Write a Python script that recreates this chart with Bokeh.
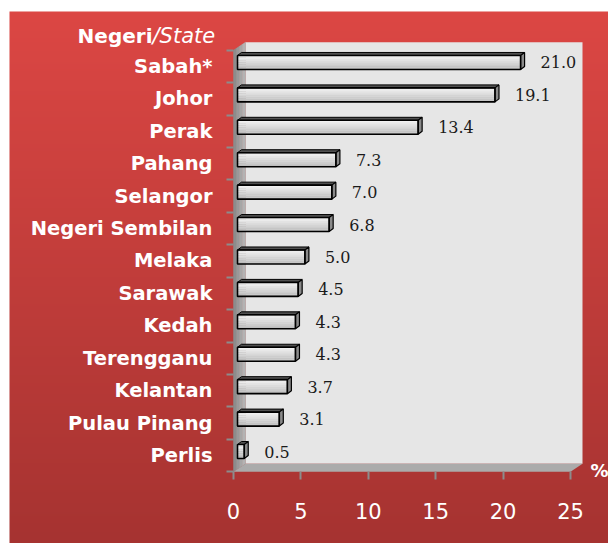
import numpy as np
from bokeh.plotting import figure
from bokeh.models import Range1d, LinearAxis, FixedTicker, ColumnDataSource
from bokeh.core.properties import value
from bokeh.embed import file_html
from bokeh.resources import INLINE

# ---------------- data ----------------
states = ["Sabah*", "Johor", "Perak", "Pahang", "Selangor", "Negeri Sembilan",
          "Melaka", "Sarawak", "Kedah", "Terengganu", "Kelantan",
          "Pulau Pinang", "Perlis"]
percent = [21.0, 19.1, 13.4, 7.3, 7.0, 6.8, 5.0, 4.5, 4.3, 4.3, 3.7, 3.1, 0.5]
x_ticks = [0, 5, 10, 15, 20, 25]
header_bold = "Negeri"
header_italic = "/State"
unit_label = "%"

# ---------------- layout constants (page pixels) ----------------
W, H = 608, 543
PAGE_LEFT, PAGE_TOP = 0, 0
X0_PX, X_SCALE = 233.0, 13.48   # page x of value 0 and px per unit
Y0_PX, Y_SCALE = 455.0, 32.42   # page y of last category centre and px per category


def px2x(px):
    return (px - X0_PX) / X_SCALE


def py2y(py):
    return (Y0_PX - py) / Y_SCALE


def dxp(px):
    return px / X_SCALE


def dyp(px):
    return px / Y_SCALE


n = len(states)
ypos = [n - 1 - k for k in range(n)]
xmax = x_ticks[-1]

p = figure(width=W, height=H, title=None,
           x_range=Range1d(px2x(PAGE_LEFT), px2x(PAGE_LEFT + W)),
           y_range=Range1d(py2y(PAGE_TOP + H), py2y(PAGE_TOP)),
           x_axis_location=None, y_axis_location=None,
           toolbar_location=None, tools="", output_backend="svg",
           min_border=0, outline_line_color=None,
           background_fill_color="white", border_fill_color="white")
p.xgrid.visible = False
p.ygrid.visible = False

# ---------------- red gradient panel ----------------
rows = 240
top_rgb = np.array([220, 71, 68], dtype=float)
bot_rgb = np.array([166, 51, 49], dtype=float)
t = np.linspace(0, 1, rows)[:, None]
cols = bot_rgb * (1 - t) + top_rgb * t
img = np.zeros((rows, 1), dtype=np.uint32)
view = img.view(dtype=np.uint8).reshape((rows, 1, 4))
view[:, 0, 0] = cols[:, 0]
view[:, 0, 1] = cols[:, 1]
view[:, 0, 2] = cols[:, 2]
view[:, 0, 3] = 255
p.image_rgba(image=[img], x=px2x(9), y=py2y(PAGE_TOP + H),
             dw=px2x(PAGE_LEFT + W) - px2x(9), dh=py2y(11) - py2y(PAGE_TOP + H))

# ---------------- 3D walls ----------------
bottom, top = -0.5, n - 0.5
DX, DY = dxp(12), dyp(8)
# back wall
p.patch([DX, xmax + DX, xmax + DX, DX], [bottom + DY, bottom + DY, top + DY, top + DY],
        fill_color="#E6E6E6", line_color=None)
# left wall (horizontal gradient strips)
wall_cols = ["#8C8C8C", "#999999", "#A6A6A6", "#B3B3B3"]
ns = len(wall_cols)
for k, c in enumerate(wall_cols):
    a, b = k / ns, (k + 1) / ns
    p.patch([DX * a, DX * b, DX * b, DX * a],
            [bottom + DY * a, bottom + DY * b, top + DY * b, top + DY * a],
            fill_color=c, line_color=c, line_width=0.5)
# floor
p.patch([0, xmax, xmax + DX, DX], [bottom, bottom, bottom + DY, bottom + DY],
        fill_color="#ABABAB", line_color=None)

# ---------------- 3D bars ----------------
BX, BY = dxp(4), dyp(4)       # bar front-face offset from front plane
HH = dyp(7)                   # half height of bar face
CX, CY = dxp(4), dyp(3)       # bar depth
S = 8
c_top = np.array([242, 242, 242], dtype=float)
c_bot = np.array([190, 190, 190], dtype=float)
sl, sr, sb, st, sc = [], [], [], [], []
top_xs, top_ys, cap_xs, cap_ys = [], [], [], []
for v, y in zip(percent, ypos):
    yc = y + BY
    left, right = BX, v + BX
    for s in range(S):
        f = s / (S - 1)
        cc = c_top * (1 - f) + c_bot * f
        sl.append(left)
        sr.append(right)
        st.append(yc + HH - s * 2 * HH / S)
        sb.append(yc + HH - (s + 1) * 2 * HH / S)
        sc.append("#%02x%02x%02x" % tuple(int(round(q)) for q in cc))
    top_xs.append([left, right, right + CX, left + CX])
    top_ys.append([yc + HH, yc + HH, yc + HH + CY, yc + HH + CY])
    cap_xs.append([right, right, right + CX, right + CX])
    cap_ys.append([yc - HH, yc + HH, yc + HH + CY, yc - HH + CY])

p.quad(left=sl, right=sr, bottom=sb, top=st, fill_color=sc, line_color=None)
p.patches(top_xs, top_ys, fill_color="#505050", line_color="black", line_width=1)
p.patches(cap_xs, cap_ys, fill_color="#8A8A8A", line_color="black", line_width=1.2)
p.quad(left=[BX] * n, right=[v + BX for v in percent],
       bottom=[y + BY - HH for y in ypos], top=[y + BY + HH for y in ypos],
       fill_color=None, line_color="black", line_width=1.6)

# value labels
src = ColumnDataSource(dict(x=percent, y=ypos, txt=["%.1f" % v for v in percent]))
p.text(x="x", y="y", text="txt", source=src, x_offset=24, y_offset=-4,
       text_align="left", text_baseline="middle",
       text_font=value("DejaVu Serif"), text_font_size="16px", text_color="#1a1a1a")

# ---------------- axes ----------------
yaxis = LinearAxis(fixed_location=0,
                   ticker=FixedTicker(ticks=ypos, minor_ticks=[k - 0.5 for k in range(n + 1)]),
                   major_label_overrides={y: s for y, s in zip(ypos, states)},
                   bounds=(bottom, top))
yaxis.major_tick_out = 0
yaxis.major_tick_in = 0
yaxis.minor_tick_out = 7
yaxis.minor_tick_in = 0
yaxis.minor_tick_line_color = "#8C8C8C"
yaxis.minor_tick_line_width = 2
yaxis.axis_line_color = None
yaxis.major_label_text_color = "white"
yaxis.major_label_text_font = "DejaVu Sans"
yaxis.major_label_text_font_style = "bold"
yaxis.major_label_text_font_size = "19.5px"
yaxis.major_label_standoff = 14
p.add_layout(yaxis, "left")

xaxis = LinearAxis(fixed_location=bottom, ticker=FixedTicker(ticks=x_ticks),
                   bounds=(x_ticks[0], x_ticks[-1]))
xaxis.major_tick_out = 8
xaxis.major_tick_in = 0
xaxis.minor_tick_out = 0
xaxis.minor_tick_in = 0
xaxis.major_tick_line_color = "#8C8C8C"
xaxis.major_tick_line_width = 2
xaxis.axis_line_color = None
xaxis.major_label_text_color = "white"
xaxis.major_label_text_font = "DejaVu Sans"
xaxis.major_label_text_font_size = "21px"
xaxis.major_label_standoff = 23
p.add_layout(xaxis, "below")

# ---------------- header and unit ----------------
p.text(x=[px2x(152)], y=[py2y(35)], text=[header_bold], text_align="right",
       text_baseline="middle", text_color="white",
       text_font=value("DejaVu Sans"), text_font_style="bold", text_font_size="20px")
p.text(x=[px2x(152)], y=[py2y(35)], text=[header_italic], text_align="left",
       text_baseline="middle", text_color="white",
       text_font=value("DejaVu Sans"), text_font_style="italic", text_font_size="21px")
p.text(x=[px2x(590)], y=[py2y(470)], text=[unit_label], text_align="left",
       text_baseline="middle", text_color="white",
       text_font=value("DejaVu Sans"), text_font_style="bold", text_font_size="18px")

open("out.html", "w").write(file_html(p, INLINE))
